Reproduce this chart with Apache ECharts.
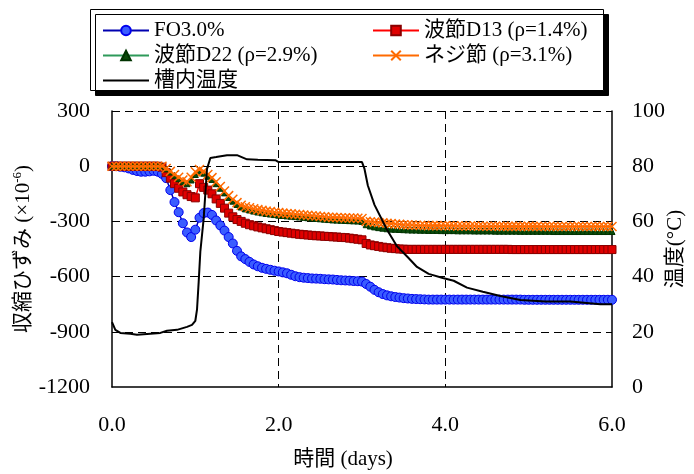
<!DOCTYPE html>
<html><head><meta charset="utf-8">
<script src="https://cdn.jsdelivr.net/npm/echarts@6/dist/echarts.min.js"></script>
<style>html,body{margin:0;padding:0;background:#fff}#c{width:694px;height:474px}</style>
</head><body><div id="c"></div>
<script>
// x sampling (days), step 0.05 from 0.0 to 6.0
const days = [];
for (let i = 0; i <= 120; i++) days.push(+(i * 0.05).toFixed(2));

const foValues = [0,0,-3,-6,-12,-20,-26,-30,-30,-28,-25,-30,-42,-65,-130,-195,-250,-310,-360,-385,
-345,-280,-255,-252,-265,-295,-322,-350,-385,-420,-460,-490,-505,-520,-534,-544,-552,-558,-563,-568,
-572,-577,-582,-590,-598,-603,-606,-608,-610,-611,-612,-614,-615,-616,-618,-620,-621,-622,-624,-625,
-627,-640,-655,-672,-685,-695,-702,-707,-711,-714,-717,-719,-721,-722,-723,-724,-725,
-725,-725,-725,-725,-725,-725,-725,-725,-725,-725,-725,-725,-725,-725,-725,-725,-725,-725,-725,-725,-725,-725,
-726,-726,-726,-726,-726,-726,-726,-726,-726,-726,-726,-726,-726,-726,-726,-726,-726,-726,-726,-726,-726,-726];

const d13Values = [0,0,0,0,0,0,0,0,0,0,0,0,-5,-35,-65,-95,-120,-140,-155,-165,
-172,-95,-115,-130,-150,-178,-202,-228,-255,-275,-290,-300,-310,-318,-324,-330,-335,-340,-345,-350,
-355,-358,-361,-364,-367,-370,-372,-374,-376,-378,-379,-381,-382,-384,-385,-387,-388,-391,-394,-397,
-400,-420,-428,-432,-436,-440,-443,-446,-448,-450,-451,
-452,-452,-452,-452,-452,-452,-452,-452,-452,-452,-452,-452,-452,-452,-452,-452,-452,-452,-452,-452,-452,-452,-452,-452,-452,
-453,-453,-453,-453,-453,-453,-453,-453,-453,-453,-453,-453,-453,-453,-453,-453,-453,-453,-453,-453,-453,-453,-453,-453,-453];

const d22Values = [0,0,0,0,0,0,0,0,0,0,0,0,0,-15,-32,-50,-68,-85,-95,-75,
-45,-28,-38,-55,-72,-95,-120,-145,-170,-190,-208,-222,-232,-238,-244,-249,-253,-257,-260,-263,
-266,-268,-270,-272,-274,-276,-278,-280,-282,-284,-286,-288,-290,-292,-293,-294,-295,-296,-297,-298,
-300,-318,-325,-330,-334,-337,-340,-342,-343,-344,-345,-346,-347,-347,-348,-348,-349,
-349,-349,-350,-350,-350,-350,-351,-351,-351,-351,-352,-352,-352,-352,-352,-353,-353,-353,-353,-353,-353,-354,
-354,-354,-354,-354,-354,-354,-354,-355,-355,-355,-355,-355,-355,-355,-355,-355,-355,-355,-355,-355,-355,-355];

const nejiValues = [0,0,0,0,0,0,0,0,0,0,0,0,0,-12,-28,-45,-60,-75,-84,-60,
-30,-18,-28,-45,-62,-85,-110,-135,-160,-180,-198,-212,-220,-226,-231,-236,-240,-244,-247,-250,
-252,-255,-257,-259,-261,-263,-265,-267,-269,-271,-273,-275,-277,-278,-279,-280,-281,-282,-282,-283,
-284,-300,-302,-304,-306,-308,-310,-312,-314,-316,-318,-319,-320,-321,-322,-322,-323,
-323,-323,-324,-324,-324,-324,-325,-325,-325,-325,-325,-326,-326,-326,-326,-326,-326,-327,-327,-327,-327,-327,
-327,-327,-327,-327,-328,-328,-328,-328,-328,-328,-328,-328,-328,-328,-328,-328,-328,-328,-328,-328,-328,-328];

const tempDays = [0,0.04,0.1,0.22,0.3,0.46,0.58,0.66,0.78,0.9,0.96,1.0,1.02,1.04,1.06,1.1,1.14,1.18,1.25,1.38,1.5,1.62,1.75,1.96,2.0,2.5,3.0,3.03,3.07,3.15,3.3,3.42,3.55,3.66,3.8,3.97,4.1,4.26,4.45,4.66,4.9,5.2,5.5,5.86,6.0];
const tempValues = [23.5,20.7,19.6,19.3,18.9,19.3,19.6,20.4,20.7,21.8,22.5,24,28,38,49,61,79,83,83.3,84,84,82.5,82.3,82.2,81.5,81.5,81.5,79,73,66,57,51,47,43.5,41,39.5,38.5,36,34.5,33,31.5,31,31,30,30];

const xTicks = [0, 2, 4, 6];
const leftTicks = [-1200, -900, -600, -300, 0, 300];
const rightTicks = [0, 20, 40, 60, 80, 100];

const FONT = "'Liberation Serif','Noto Sans CJK JP',serif";
const pair = (xs, ys) => xs.map((x, i) => [x, ys[i]]);
const dash = {type: [8, 5], color: '#000', width: 1};

const chart = echarts.init(document.getElementById('c'), null, {renderer: 'canvas'});
chart.setOption({
  animation: false,
  backgroundColor: '#fff',
  graphic: [{
    type: 'rect', left: 90, top: 9, z: 0,
    shape: {width: 513, height: 81},
    style: {fill: '#fff', stroke: '#000', lineWidth: 1, shadowColor: '#000', shadowOffsetX: 5, shadowOffsetY: 5, shadowBlur: 0}
  }],
  legend: [{
    orient: 'vertical', left: 97, top: 13, itemWidth: 46, itemHeight: 12, itemGap: 0,
    data: ['FO3.0%', '波節D22 (ρ=2.9%)', {name: '槽内温度', itemStyle: {opacity: 0}}],
    textStyle: {fontFamily: FONT, fontSize: 21, color: '#000', lineHeight: 25}
  }, {
    orient: 'vertical', left: 367, top: 13, itemWidth: 46, itemHeight: 12, itemGap: 0,
    data: ['波節D13 (ρ=1.4%)', 'ネジ節 (ρ=3.1%)'],
    textStyle: {fontFamily: FONT, fontSize: 21, color: '#000', lineHeight: 25}
  }],
  grid: {left: 112, right: 82, top: 111, bottom: 87, containLabel: false, outerBoundsMode: 'none'},
  xAxis: {
    type: 'value', min: xTicks[0], max: xTicks[xTicks.length - 1], interval: 2,
    name: '時間 (days)', nameLocation: 'middle', nameGap: 62, nameMoveOverlap: false,
    nameTextStyle: {fontFamily: FONT, fontSize: 21, color: '#000', padding: [0, 38, 0, 0]},
    axisLine: {show: true, onZero: false, lineStyle: {color: '#000', width: 1.5}},
    axisTick: {show: false},
    axisLabel: {fontFamily: FONT, fontSize: 22, color: '#000', margin: 27, formatter: v => v.toFixed(1)},
    splitLine: {show: true, showMinLine: false, showMaxLine: false, lineStyle: dash}
  },
  yAxis: [{
    type: 'value', min: leftTicks[0], max: leftTicks[leftTicks.length - 1], interval: 300,
    name: '{a|収縮ひずみ (×10}{s|-6}{a|)}', nameLocation: 'middle', nameGap: 76, nameRotate: 90, nameMoveOverlap: false,
    nameTextStyle: {rich: {
      a: {fontFamily: FONT, fontSize: 21, color: '#000'},
      s: {fontFamily: FONT, fontSize: 13, color: '#000', verticalAlign: 'top', padding: [0, 0, 12, 0]}
    }},
    axisLine: {show: true, onZero: false, lineStyle: {color: '#000', width: 1.5}},
    axisTick: {show: false},
    axisLabel: {fontFamily: FONT, fontSize: 22, color: '#000', margin: 22, formatter: v => String(v)},
    splitLine: {show: true, showMinLine: false, lineStyle: dash}
  }, {
    type: 'value', min: rightTicks[0], max: rightTicks[rightTicks.length - 1], interval: 20,
    position: 'right',
    name: '温度(°C)', nameLocation: 'middle', nameGap: 53, nameRotate: 90, nameMoveOverlap: false,
    nameTextStyle: {fontFamily: FONT, fontSize: 21, color: '#000'},
    axisLine: {show: true, onZero: false, lineStyle: {color: '#000', width: 1.5}},
    axisTick: {show: false},
    axisLabel: {fontFamily: FONT, fontSize: 22, color: '#000', margin: 20},
    splitLine: {show: false}
  }],
  series: [{
    name: 'FO3.0%', type: 'line', yAxisIndex: 0, data: pair(days, foValues),
    symbol: 'circle', symbolSize: 9, z: 2,
    lineStyle: {color: '#0000b0', width: 1.5},
    itemStyle: {color: '#3a5cff', borderColor: '#0000ee', borderWidth: 1}
  }, {
    name: '波節D13 (ρ=1.4%)', type: 'line', yAxisIndex: 0, data: pair(days, d13Values),
    symbol: 'rect', symbolSize: 8, z: 3,
    lineStyle: {color: '#ff0000', width: 1.5},
    itemStyle: {color: '#e00000', borderColor: '#8a0000', borderWidth: 1}
  }, {
    name: '波節D22 (ρ=2.9%)', type: 'line', yAxisIndex: 0, data: pair(days, d22Values),
    symbol: 'triangle', symbolSize: 6, z: 4,
    lineStyle: {color: '#2e9a5a', width: 1.5},
    itemStyle: {color: '#0a4a0a', borderColor: '#003300', borderWidth: 1}
  }, {
    name: 'ネジ節 (ρ=3.1%)', type: 'line', yAxisIndex: 0, data: pair(days, nejiValues),
    symbol: 'path://M0,0L10,10M10,0L0,10', symbolSize: 9, z: 5,
    lineStyle: {color: '#ff6a00', width: 1.5},
    itemStyle: {color: '#ff6a00', borderColor: '#ff6a00', borderWidth: 1.5}
  }, {
    name: '槽内温度', type: 'line', yAxisIndex: 1, data: pair(tempDays, tempValues),
    symbol: 'none', z: 6,
    lineStyle: {color: '#000', width: 2},
    itemStyle: {color: '#000'}
  }]
});
</script></body></html>
